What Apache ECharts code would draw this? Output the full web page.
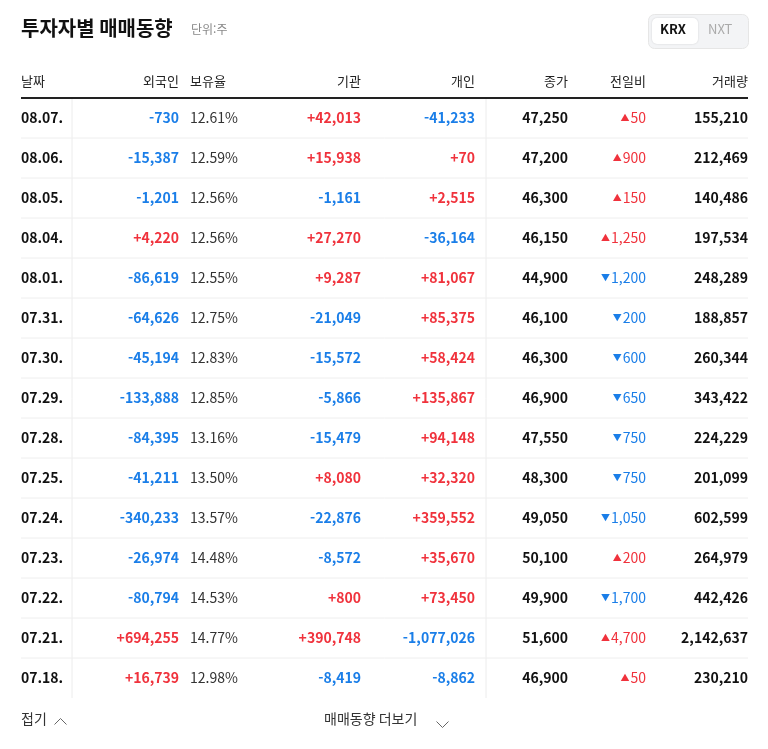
<!DOCTYPE html>
<html lang="ko">
<head>
<meta charset="UTF-8" />
<title>투자자별 매매동향</title>
<script src="https://cdn.jsdelivr.net/npm/echarts@6/dist/echarts.min.js"></script>
<style>body{margin:0;background:#fff}</style>
</head>
<body>
<div id="main" style="width:768px;height:749px"></div>
<script>
const dates = ["08.07.","08.06.","08.05.","08.04.","08.01.","07.31.","07.30.","07.29.","07.28.","07.25.","07.24.","07.23.","07.22.","07.21.","07.18."];
const foreign = [-730,-15387,-1201,4220,-86619,-64626,-45194,-133888,-84395,-41211,-340233,-26974,-80794,694255,16739];
const holdRatio = ["12.61%","12.59%","12.56%","12.56%","12.55%","12.75%","12.83%","12.85%","13.16%","13.50%","13.57%","14.48%","14.53%","14.77%","12.98%"];
const institution = [42013,15938,-1161,27270,9287,-21049,-15572,-5866,-15479,8080,-22876,-8572,800,390748,-8419];
const individual = [-41233,70,2515,-36164,81067,85375,58424,135867,94148,32320,359552,35670,73450,-1077026,-8862];
const closePrice = [47250,47200,46300,46150,44900,46100,46300,46900,47550,48300,49050,50100,49900,51600,46900];
const change = [50,900,150,1250,-1200,-200,-600,-650,-750,-750,-1050,200,-1700,4700,50];
const volume = [155210,212469,140486,197534,248289,188857,260344,343422,224229,201099,602599,264979,442426,2142637,230210];
const headers = ["날짜","외국인","보유율","기관","개인","종가","전일비","거래량"];

const RED = "#f0323c", BLUE = "#1a7ee8", FONT = "'Noto Sans CJK KR', 'Noto Sans', sans-serif";
const fmt = v => Math.abs(v).toLocaleString("en-US");
const signed = v => (v > 0 ? "+" : "-") + fmt(v);
const col = v => v > 0 ? RED : BLUE;

function txt(api, x, y, s, o) {
  const p = api.coord([x, y]);
  return { type: "text", style: Object.assign({ x: p[0], y: p[1], text: s, fontFamily: FONT, fontSize: 14,
    fill: "#111", align: "right", verticalAlign: "middle" }, o || {}) };
}

const myChart = echarts.init(document.getElementById("main"));
myChart.setOption({
  animation: false,
  grid: { left: 0, right: 0, top: 0, bottom: 0 },
  xAxis: { type: "value", min: 0, max: 768, show: false },
  yAxis: { type: "value", min: 0, max: 749, inverse: true, show: false },
  graphic: [
    { type: "text", left: 21, top: 18, style: { text: "투자자별 매매동향", fontFamily: FONT, fontSize: 20, fontWeight: "bold", fill: "#111" } },
    { type: "text", left: 191, top: 23, style: { text: "단위:주", fontFamily: FONT, fontSize: 12, fill: "#888" } },
    { type: "rect", left: 648, top: 14, shape: { width: 100, height: 34, r: 6 }, style: { fill: "#f3f4f6", stroke: "#e6e6e6" } },
    { type: "rect", left: 652, top: 18, shape: { width: 46, height: 26, r: 5 }, style: { fill: "#fff", shadowBlur: 2, shadowColor: "rgba(0,0,0,0.15)" } },
    { type: "text", left: 660, top: 23, style: { text: "KRX", fontFamily: FONT, fontSize: 13, fontWeight: "bold", fill: "#111" } },
    { type: "text", left: 708, top: 23, style: { text: "NXT", fontFamily: FONT, fontSize: 13, fill: "#aaa" } },
    { type: "text", left: 21, top: 712, style: { text: "접기", fontFamily: FONT, fontSize: 14, fill: "#333" } },
    { type: "polyline", left: 52, top: 716, shape: { points: [[0, 7], [6, 1], [12, 7]] }, style: { stroke: "#666", lineWidth: 1, fill: null } },
    { type: "text", left: 324, top: 712, style: { text: "매매동향 더보기", fontFamily: FONT, fontSize: 14, fill: "#333" } },
    { type: "polyline", left: 434, top: 719, shape: { points: [[0, 0], [6, 6], [12, 0]] }, style: { stroke: "#666", lineWidth: 1, fill: null } }
  ],
  series: [
    {
      type: "custom", silent: true,
      data: [[0]],
      renderItem: (params, api) => {
        const xs = [21, 179, 190, 361, 475, 568, 646, 748];
        const ch = headers.map((h, i) => txt(api, xs[i], 81, h, { fontSize: 13, fill: "#222", align: (i === 0 || i === 2) ? "left" : "right" }));
        const a = api.coord([21, 98]), b = api.coord([748, 98]);
        ch.push({ type: "line", shape: { x1: a[0], y1: a[1], x2: b[0], y2: b[1] }, style: { stroke: "#222", lineWidth: 2 } });
        [72, 486].forEach(x => {
          const p = api.coord([x, 99]), q = api.coord([x, 698]);
          ch.push({ type: "line", shape: { x1: p[0], y1: p[1], x2: q[0], y2: q[1] }, style: { stroke: "#ececec", lineWidth: 1 } });
        });
        return { type: "group", children: ch };
      }
    },
    {
      type: "custom", silent: true,
      data: dates.map((d, i) => [i]),
      renderItem: (params, api) => {
        const i = api.value(0);
        const y = 118 + 40 * i;
        const c = col(change[i]);
        const ch = [
          txt(api, 21, y, dates[i], { align: "left", fontWeight: "bold" }),
          txt(api, 179, y, signed(foreign[i]), { fill: col(foreign[i]), fontWeight: 600 }),
          txt(api, 190, y, holdRatio[i], { align: "left", fill: "#333" }),
          txt(api, 361, y, signed(institution[i]), { fill: col(institution[i]), fontWeight: 600 }),
          txt(api, 475, y, signed(individual[i]), { fill: col(individual[i]), fontWeight: 600 }),
          txt(api, 568, y, fmt(closePrice[i]), { fontWeight: "bold" }),
          txt(api, 646, y, "{t|" + (change[i] > 0 ? "▲" : "▼") + "}{v|" + fmt(change[i]) + "}", {
            rich: { t: { fontSize: 9, fill: c, fontFamily: FONT, padding: [0, 1, 1, 0] }, v: { fontSize: 14, fill: c, fontFamily: FONT } } }),
          txt(api, 748, y, fmt(volume[i]), { fontWeight: "bold" })
        ];
        if (i < dates.length - 1) {
          const p = api.coord([21, y + 20]), q = api.coord([748, y + 20]);
          ch.push({ type: "line", shape: { x1: p[0], y1: p[1], x2: q[0], y2: q[1] }, style: { stroke: "#eeeeee", lineWidth: 1 } });
        }
        return { type: "group", children: ch };
      }
    }
  ]
});
</script>
</body>
</html>
